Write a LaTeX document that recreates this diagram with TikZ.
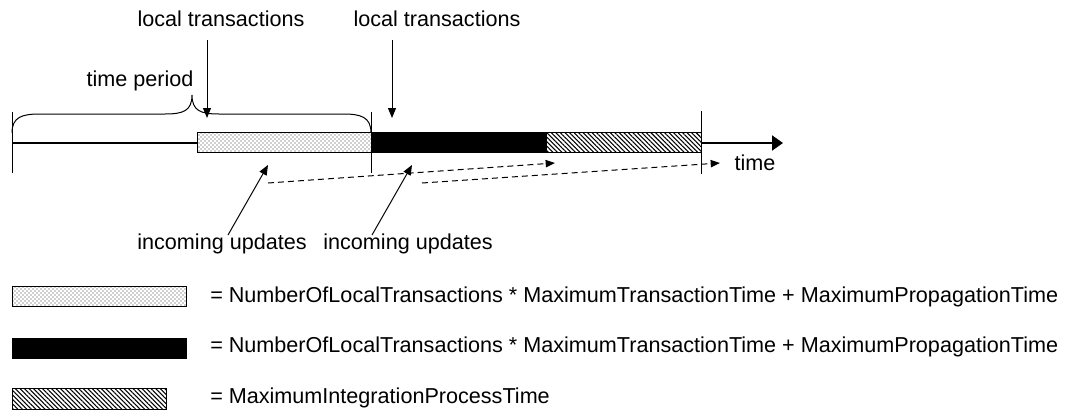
\documentclass[tikz,border=0pt]{standalone}
\usepackage{fontspec}
\setmainfont{Liberation Sans}
\usetikzlibrary{arrows.meta,patterns,patterns.meta}

% fine staggered dot fill
\pgfdeclarepatternformonly{finedots}{\pgfqpoint{-0.5pt}{-0.5pt}}{\pgfqpoint{3.5pt}{3.5pt}}{\pgfqpoint{3pt}{3pt}}{%
  \pgfpathcircle{\pgfqpoint{0.75pt}{0.75pt}}{0.42pt}%
  \pgfpathcircle{\pgfqpoint{2.25pt}{2.25pt}}{0.42pt}%
  \pgfusepath{fill}}

\tikzset{
  lbl/.style={inner sep=0pt, font=\fontsize{16.2}{19}\selectfont},
  barbox/.style={draw=black, line width=0.75pt, minimum height=15pt, inner sep=0pt, anchor=west},
  dotbar/.style={barbox, fill=white, pattern=finedots, pattern color=black!80},
  blackbar/.style={barbox, fill=black},
  hatchbar/.style={barbox, pattern={Lines[angle=-45,distance=2.4pt,line width=0.8pt]}, pattern color=black},
  tick/.style={line width=0.75pt},
  thickline/.style={line width=1.5pt},
  pointer/.style={line width=0.75pt, -{Triangle[length=7.5pt,width=6pt]}},
  update/.style={line width=0.75pt, dash pattern=on 4.5pt off 3pt, -{Triangle[length=7pt,width=5.5pt]}},
  axisarrow/.style={line width=1.5pt, -{Triangle[length=8.25pt,width=11.25pt]}},
}

\begin{document}
\begin{tikzpicture}[x=0.75pt,y=-0.75pt]
\useasboundingbox (0,0) rectangle (1067,414);

% timeline bars
\node[dotbar, minimum width=130.5pt] (dbar) at (197,142.5) {};
\node[blackbar, minimum width=131.25pt] (bbar) at (371,142.5) {};
\node[hatchbar, minimum width=116.25pt] (hbar) at (546,142.5) {};

% ticks
\coordinate (t0top) at (12,112);   \coordinate (t0bot) at (12,173);
\coordinate (t1top) at (371,112);  \coordinate (t1bot) at (371,173);
\coordinate (t2top) at (701,111);  \coordinate (t2bot) at (701,174);
\draw[tick] (t0top) -- (t0bot);
\draw[tick] (t1top) -- (t1bot);
\draw[tick] (t2top) -- (t2bot);

% baseline and time axis
\coordinate (start) at (12,143);
\coordinate (axisend) at (783,143);
\draw[thickline] (start) -- (dbar.west |- start);
\draw[axisarrow] (hbar.east |- axisend) -- (axisend);
\node[lbl, anchor=center] (timelbl) at (755,163) {time};

% brace over the time period
\coordinate (bl) at (12,133);
\coordinate (btip) at (192,95);
\coordinate (br) at (371,133);
\draw[line width=0.75pt] (bl) .. controls (12,117) and (22,114) .. (40,114)
  -- (165,114) .. controls (183,114) and (192,111) .. (btip)
  .. controls (192,111) and (201,114) .. (219,114)
  -- (343,114) .. controls (361,114) and (371,117) .. (br);
\node[lbl] (tp) at (140,81) {time period};

% local transactions
\node[lbl] (lt1) at (221,19) {local transactions};
\node[lbl] (lt2) at (437,19) {local transactions};
\coordinate (lt1from) at (207,40); \coordinate (lt1to) at (207,118);
\coordinate (lt2from) at (392,40); \coordinate (lt2to) at (392,118);
\draw[pointer] (lt1from) -- (lt1to);
\draw[pointer] (lt2from) -- (lt2to);

% incoming updates
\node[lbl] (iu1) at (222,244) {incoming updates};
\node[lbl] (iu2) at (408,244) {incoming updates};
\coordinate (iu1from) at (228,235); \coordinate (iu1to) at (268,165);
\coordinate (iu2from) at (372,235); \coordinate (iu2to) at (412,165);
\draw[pointer] (iu1from) -- (iu1to);
\draw[pointer] (iu2from) -- (iu2to);

% propagation of updates
\coordinate (u1a) at (268,183); \coordinate (u1b) at (555,163);
\coordinate (u2a) at (422,183); \coordinate (u2b) at (720,163);
\draw[update] (u1a) -- (u1b);
\draw[update] (u2a) -- (u2b);

% legend
\node[dotbar, minimum width=130.5pt] (leg1) at (12,296) {};
\node[blackbar, minimum width=130.5pt] (leg2) at (12,348) {};
\node[hatchbar, minimum width=115.5pt, minimum height=15.75pt] (leg3) at (12,398.5) {};
\node[lbl, anchor=west] (leg1txt) at (210,297) {= NumberOfLocalTransactions * MaximumTransactionTime + MaximumPropagationTime};
\node[lbl, anchor=west] (leg2txt) at (210,347) {= NumberOfLocalTransactions * MaximumTransactionTime + MaximumPropagationTime};
\node[lbl, anchor=west] (leg3txt) at (210,398) {= MaximumIntegrationProcessTime};
\end{tikzpicture}
\end{document}
